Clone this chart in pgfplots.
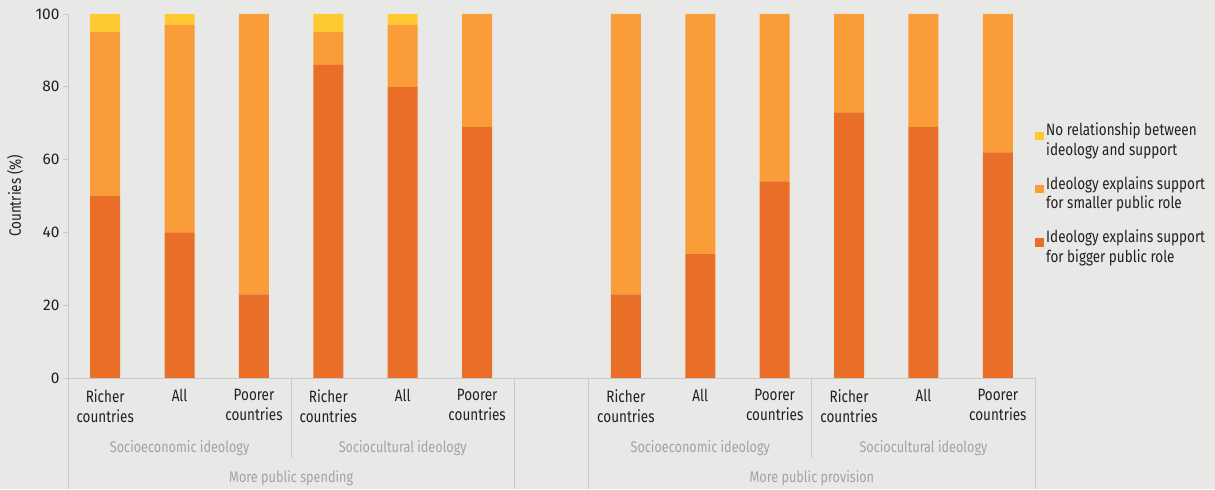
\documentclass[border=0pt]{standalone}
\usepackage{fontspec}
\setmainfont{Fira Sans}[FakeStretch=0.82]
\newfontfamily\tickfont{Fira Sans}
\usepackage{pgfplots}
\pgfplotsset{compat=1.18}

\definecolor{bg}{HTML}{E8E9E6}
\definecolor{bigger}{HTML}{E96E27}
\definecolor{smaller}{HTML}{FA9D38}
\definecolor{norel}{HTML}{FFCA31}
\definecolor{rulec}{HTML}{C9CAC7}
\definecolor{grouptxt}{HTML}{A3A4A2}
\definecolor{txt}{HTML}{231F20}

\begin{document}
\begin{tikzpicture}[x=1bp,y=1bp]
\fill[bg] (-68,-111) rectangle (1147,378);
\begin{axis}[
  at={(0,0)}, anchor=south west,
  scale only axis, width=967bp, height=364bp,
  xmin=-0.5, xmax=12.5, ymin=0, ymax=100,
  ybar stacked, bar width=30bp,
  clip=false,
  axis x line=bottom, axis y line=left,
  axis line style={draw=rulec, line width=0.8pt, -},
  ytick={0,20,...,100},
  y tick style={draw=rulec, line width=0.8pt},
  tick align=outside, major tick length=5bp,
  xtick={0,1,2,3,4,5,7,8,9,10,11,12},
  xticklabels={Richer\\countries, All, Poorer\\countries,
               Richer\\countries, All, Poorer\\countries,
               Richer\\countries, All, Poorer\\countries,
               Richer\\countries, All, Poorer\\countries},
  x tick style={draw=none},
  xticklabel style={align=center, font=\fontsize{16.5}{20}\selectfont, text=txt, yshift=-3bp},
  yticklabel style={font=\tickfont\fontsize{15.5}{18}\selectfont, text=txt},
  /pgf/number format/assume math mode=true,
  ylabel={Countries (\%)},
  ylabel style={at={(axis description cs:-0.0548,0.5)}, anchor=center,
                font=\fontsize{16.5}{20}\selectfont, text=txt},
  legend style={at={(axis description cs:1,0.712)}, anchor=north west,
                draw=none, fill=none, font=\fontsize{16.5}{20}\selectfont,
                text=txt, cells={align=left}, row sep=15bp, inner xsep=0pt},
  legend cell align=left,
  reverse legend,
  legend image code/.code={\fill[#1] (0bp,0bp) rectangle (9bp,8.5bp);},
]
\addplot[fill=bigger, draw=none] coordinates {
  (0,50) (1,40) (2,23) (3,86) (4,80) (5,69)
  (7,23) (8,34) (9,54) (10,73) (11,69) (12,62)};
\addplot[fill=smaller, draw=none] coordinates {
  (0,45) (1,57) (2,77) (3,9) (4,17) (5,31)
  (7,77) (8,66) (9,46) (10,27) (11,31) (12,38)};
\addplot[fill=norel, draw=none] coordinates {
  (0,5) (1,3) (2,0) (3,5) (4,3) (5,0)
  (7,0) (8,0) (9,0) (10,0) (11,0) (12,0)};
\legend{Ideology explains support\\for bigger public role,
        Ideology explains support\\for smaller public role,
        No relationship between\\ideology and support}

% group separators and labels
\draw[rulec, line width=0.8pt] (axis cs:-0.5,0) -- ([yshift=-111bp]axis cs:-0.5,0);
\draw[rulec, line width=0.8pt] (axis cs:5.5,0) -- ([yshift=-111bp]axis cs:5.5,0);
\draw[rulec, line width=0.8pt] (axis cs:6.5,0) -- ([yshift=-111bp]axis cs:6.5,0);
\draw[rulec, line width=0.8pt] (axis cs:12.5,0) -- ([yshift=-111bp]axis cs:12.5,0);
\draw[rulec, line width=0.8pt] (axis cs:2.5,0) -- ([yshift=-80bp]axis cs:2.5,0);
\draw[rulec, line width=0.8pt] (axis cs:9.5,0) -- ([yshift=-80bp]axis cs:9.5,0);
\draw[rulec, line width=0.8pt] (axis cs:-0.5,0) -- (axis cs:12.5,0);
\node[text=grouptxt, font=\fontsize{15.5}{18}\selectfont] at ([yshift=-70bp]axis cs:1,0) {Socioeconomic ideology};
\node[text=grouptxt, font=\fontsize{15.5}{18}\selectfont] at ([yshift=-70bp]axis cs:4,0) {Sociocultural ideology};
\node[text=grouptxt, font=\fontsize{15.5}{18}\selectfont] at ([yshift=-70bp]axis cs:8,0) {Socioeconomic ideology};
\node[text=grouptxt, font=\fontsize{15.5}{18}\selectfont] at ([yshift=-70bp]axis cs:11,0) {Sociocultural ideology};
\node[text=grouptxt, font=\fontsize{15.5}{18}\selectfont] at ([yshift=-100bp]axis cs:2.5,0) {More public spending};
\node[text=grouptxt, font=\fontsize{15.5}{18}\selectfont] at ([yshift=-100bp]axis cs:9.5,0) {More public provision};
\end{axis}
\end{tikzpicture}
\end{document}
